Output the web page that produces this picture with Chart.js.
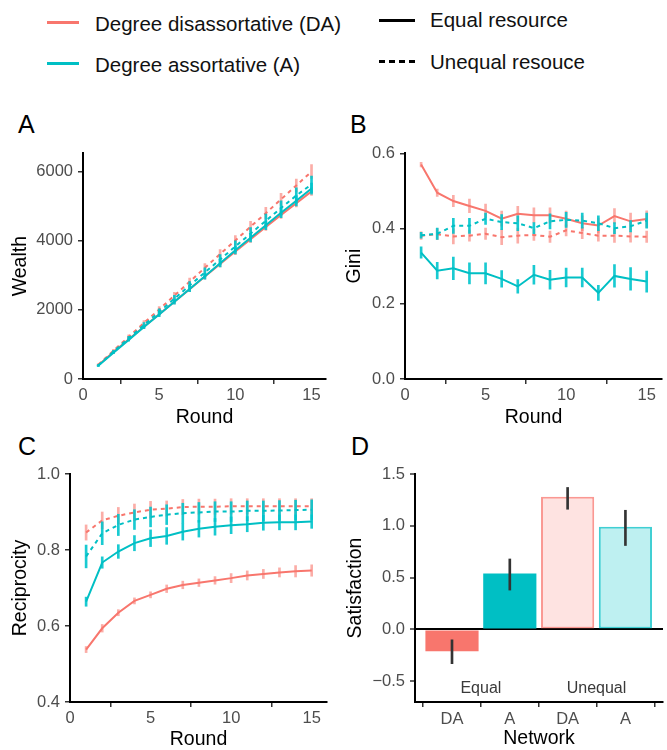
<!DOCTYPE html>
<html><head><meta charset="utf-8">
<script src="https://cdn.jsdelivr.net/npm/chart.js@4/dist/chart.umd.min.js"></script>
<style>
html,body{margin:0;padding:0;background:#fff;}
body{width:667px;height:750px;position:relative;overflow:hidden;font-family:"Liberation Sans",Arial,Helvetica,sans-serif;}
.panel{position:absolute;}
.panel canvas{display:block;}
.letter{position:absolute;font-size:25px;line-height:1;color:#000;}
.leg{position:absolute;font-size:20.5px;line-height:1;color:#111;white-space:nowrap;}
.sw{position:absolute;height:3px;}
</style></head><body>

<div class="sw" style="left:47px;top:21px;width:32px;background:#F8766D"></div>
<div class="leg" style="left:95px;top:14px">Degree disassortative (DA)</div>
<div class="sw" style="left:47px;top:62px;width:32px;background:#00BFC4"></div>
<div class="leg" style="left:95px;top:55px">Degree assortative (A)</div>
<div class="sw" style="left:379px;top:19px;width:36px;background:#000"></div>
<div class="leg" style="left:430px;top:10px">Equal resource</div>
<div class="sw" style="left:379px;top:60px;width:36px;background:repeating-linear-gradient(90deg,#000 0 6px,transparent 6px 10px)"></div>
<div class="leg" style="left:430px;top:52px">Unequal resouce</div>

<div class="letter" style="left:18px;top:112px">A</div>
<div class="letter" style="left:350px;top:112px">B</div>
<div class="letter" style="left:18px;top:434px">C</div>
<div class="letter" style="left:351px;top:434px">D</div>

<div class="panel" style="left:0;top:140px;width:333px;height:300px"><canvas id="cA" width="333" height="300"></canvas></div>
<div class="panel" style="left:333px;top:140px;width:334px;height:300px"><canvas id="cB" width="334" height="300"></canvas></div>
<div class="panel" style="left:0;top:460px;width:333px;height:290px"><canvas id="cC" width="333" height="290"></canvas></div>
<div class="panel" style="left:333px;top:460px;width:334px;height:290px"><canvas id="cD" width="334" height="290"></canvas></div>

<script>
// ---------------- DATA ----------------
const rounds = [1,2,3,4,5,6,7,8,9,10,11,12,13,14,15];
const roundTicks = [0,5,10,15];

// Panel A: Wealth
const wealthTicks = [0,2000,4000,6000];
const wealthDAEqual   = [400,780,1150,1510,1870,2230,2590,2960,3320,3680,4040,4390,4740,5080,5420];
const wealthAEqual    = [380,760,1130,1500,1860,2230,2600,2970,3340,3720,4080,4440,4800,5150,5500];
const wealthDAUnequal = [410,820,1220,1620,2010,2410,2810,3210,3610,4000,4400,4790,5190,5590,5990];
const wealthAUnequal  = [390,790,1180,1560,1940,2320,2700,3080,3450,3830,4200,4570,4940,5300,5620];
const wealthErrDAEqual   = [20,30,40,50,55,60,70,75,80,90,95,100,105,110,115];
const wealthErrAEqual    = [20,30,40,50,60,70,80,90,100,110,120,130,140,150,160];
const wealthErrDAUnequal = [25,40,55,70,80,95,105,120,130,145,155,165,175,185,200];
const wealthErrAUnequal  = [25,40,55,70,85,100,115,130,145,160,175,190,205,220,240];

// Panel B: Gini
const giniTicks = [0,0.2,0.4,0.6];
const giniDAEqual   = [0.570,0.495,0.473,0.460,0.447,0.426,0.439,0.435,0.435,0.426,0.414,0.408,0.433,0.419,0.425];
const giniAEqual    = [0.336,0.288,0.294,0.281,0.281,0.266,0.246,0.277,0.264,0.270,0.270,0.229,0.274,0.266,0.259];
const giniDAUnequal = [0.381,0.385,0.379,0.381,0.386,0.377,0.381,0.383,0.378,0.395,0.388,0.381,0.381,0.379,0.378];
const giniAUnequal  = [0.382,0.386,0.407,0.407,0.426,0.417,0.414,0.401,0.419,0.423,0.421,0.414,0.401,0.406,0.421];
const giniErrDAEqual   = [0.006,0.010,0.015,0.018,0.018,0.020,0.020,0.020,0.020,0.020,0.020,0.020,0.020,0.022,0.022];
const giniErrAEqual    = [0.015,0.022,0.030,0.028,0.028,0.022,0.018,0.025,0.025,0.025,0.025,0.020,0.030,0.030,0.028];
const giniErrDAUnequal = [0.010,0.015,0.020,0.015,0.015,0.020,0.020,0.015,0.015,0.015,0.015,0.015,0.018,0.015,0.015];
const giniErrAUnequal  = [0.008,0.015,0.020,0.020,0.015,0.020,0.020,0.015,0.020,0.020,0.020,0.020,0.015,0.015,0.020];

// Panel C: Reciprocity
const recipTicks = [0.4,0.6,0.8,1.0];
const recipDAEqual   = [0.538,0.594,0.635,0.666,0.682,0.698,0.708,0.714,0.720,0.726,0.733,0.737,0.741,0.744,0.746];
const recipAEqual    = [0.664,0.767,0.796,0.818,0.831,0.837,0.848,0.856,0.861,0.865,0.868,0.872,0.873,0.873,0.875];
const recipDAUnequal = [0.846,0.878,0.890,0.899,0.906,0.909,0.913,0.914,0.914,0.915,0.915,0.915,0.915,0.915,0.915];
const recipAUnequal  = [0.783,0.844,0.866,0.880,0.887,0.893,0.897,0.899,0.901,0.901,0.903,0.903,0.904,0.905,0.906];
const recipErrDAEqual   = [0.008,0.010,0.008,0.008,0.008,0.010,0.010,0.010,0.010,0.012,0.012,0.012,0.012,0.015,0.015];
const recipErrAEqual    = [0.012,0.015,0.018,0.020,0.022,0.022,0.022,0.022,0.022,0.022,0.020,0.020,0.020,0.020,0.018];
const recipErrDAUnequal = [0.020,0.022,0.022,0.022,0.022,0.020,0.020,0.020,0.020,0.020,0.020,0.020,0.020,0.020,0.020];
const recipErrAUnequal  = [0.030,0.030,0.028,0.026,0.026,0.026,0.026,0.026,0.026,0.026,0.026,0.026,0.026,0.026,0.026];

// Panel D: Satisfaction
const satTicks       = [-0.5,0,0.5,1.0,1.5];
const networkLabels  = ['DA','A','DA','A'];
const resourceLabels = ['Equal','Unequal'];
const satisfaction   = [-0.21, 0.54, 1.28, 0.99];
const satLow         = [-0.33, 0.38, 1.16, 0.81];
const satHigh        = [-0.10, 0.68, 1.37, 1.15];

// ---------------- STYLE ----------------
const FONT = '"Liberation Sans", Arial, Helvetica, sans-serif';
const RED = '#F8766D', CYAN = '#00BFC4';
const RED_ERR = 'rgba(248,118,109,0.6)', CYAN_ERR = 'rgba(0,196,204,0.9)';
const TICK = '#4D4D4D';

function fixedTicks(values){ return s => { s.ticks = values.map(v => ({value:v})); }; }

function lineDs(data, color, dashed, order){
  return {type:'line', data: rounds.map((r,i)=>({x:r,y:data[i]})), borderColor:color, borderWidth:2,
    borderDash: dashed?[4,4]:[], pointRadius:0, fill:false, tension:0, order:order};
}
function errDs(data, err, color, order){
  return {type:'bar', data: rounds.map((r,i)=>({x:r,y:[data[i]-err[i], data[i]+err[i]]})),
    backgroundColor:color, borderWidth:0, barThickness:2, grouped:false, order:order};
}
function axisCommon(){
  return {
    grid:{display:true, drawOnChartArea:false, drawTicks:true, tickLength:5, tickColor:'#333', tickWidth:1.5, lineWidth:1.5},
    border:{display:true, color:'#000', width:2}
  };
}
function lineOptions(o){
  return {
    responsive:false, animation:false, devicePixelRatio:1,
    layout:{padding:{left:0, top:o.pt, right:o.pr, bottom:0}},
    plugins:{legend:{display:false}, tooltip:{enabled:false}},
    scales:{
      x:Object.assign(axisCommon(), {type:'linear', min:0, max:15.95, offset:false,
        afterFit(s){ s.height = o.xh; },
        afterBuildTicks: fixedTicks(roundTicks),
        ticks:{color:TICK, font:{family:FONT,size:16.5,lineHeight:1}, padding:3, maxRotation:0, autoSkip:false},
        title:{display:true, text:'Round', color:'#000', font:{family:FONT,size:19.5,lineHeight:1}, padding:{top:0,bottom:o.xtp}}
      }),
      y:Object.assign(axisCommon(), {type:'linear', min:o.ymin, max:o.ymax,
        afterFit(s){ s.width = o.yw; },
        afterBuildTicks: fixedTicks(o.ticks),
        ticks:{color:TICK, font:{family:FONT,size:16.5,lineHeight:1}, padding:5, callback:o.fmt},
        title:{display:true, text:o.ytitle, color:'#000', font:{family:FONT,size:19.5,lineHeight:1}, padding:{top:o.ytp,bottom:0}}
      })
    }
  };
}
function buildLine(id, sets, o){
  const ds = [
    errDs(sets.daU, sets.eDaU, RED_ERR, 8), lineDs(sets.daU, RED, true, 7),
    errDs(sets.daE, sets.eDaE, RED_ERR, 6), lineDs(sets.daE, RED, false, 5),
    errDs(sets.aU, sets.eAU, CYAN_ERR, 4), lineDs(sets.aU, CYAN, true, 3),
    errDs(sets.aE, sets.eAE, CYAN_ERR, 2), lineDs(sets.aE, CYAN, false, 1)
  ];
  new Chart(document.getElementById(id), {type:'line', data:{datasets:ds}, options:lineOptions(o)});
}

const fmt1 = v => (Math.abs(v)<1e-9?0:v).toFixed(1);

buildLine('cA', {daE:wealthDAEqual, aE:wealthAEqual, daU:wealthDAUnequal, aU:wealthAUnequal,
  eDaE:wealthErrDAEqual, eAE:wealthErrAEqual, eDaU:wealthErrDAUnequal, eAU:wealthErrAUnequal},
  {pt:13, pr:7, xh:61, yw:83, xtp:12.25, ytp:10.75, ymin:0, ymax:6520, ticks:wealthTicks, fmt:v=>String(v), ytitle:'Wealth'});

buildLine('cB', {daE:giniDAEqual, aE:giniAEqual, daU:giniDAUnequal, aU:giniAUnequal,
  eDaE:giniErrDAEqual, eAE:giniErrAEqual, eDaU:giniErrDAUnequal, eAU:giniErrAUnequal},
  {pt:13, pr:5, xh:61, yw:72, xtp:12.25, ytp:11.95, ymin:0, ymax:0.6, ticks:giniTicks, fmt:fmt1, ytitle:'Gini'});

buildLine('cC', {daE:recipDAEqual, aE:recipAEqual, daU:recipDAUnequal, aU:recipAUnequal,
  eDaE:recipErrDAEqual, eAE:recipErrAEqual, eDaU:recipErrDAUnequal, eAU:recipErrAUnequal},
  {pt:14, pr:6, xh:48, yw:70, xtp:0.25, ytp:10.75, ymin:0.4, ymax:1.0, ticks:recipTicks, fmt:fmt1, ytitle:'Reciprocity'});

// Panel D
const groupLabelPlugin = {
  id:'groupLabels',
  afterDatasetsDraw(chart){
    const {ctx, scales:{x,y}} = chart;
    ctx.save();
    ctx.font = '16px ' + FONT;
    ctx.fillStyle = '#3A3A3A';
    ctx.textAlign = 'center';
    ctx.textBaseline = 'alphabetic';
    resourceLabels.forEach((t,i)=>{
      ctx.fillText(t, x.getPixelForValue(1.5 + 2*i), y.getPixelForValue(-0.613));
    });
    ctx.restore();
  }
};
const dFmt = v => { if (Math.abs(v)<1e-9) return '0.0'; return v<0 ? '\u2212'+Math.abs(v).toFixed(1) : v.toFixed(1); };
new Chart(document.getElementById('cD'), {
  type:'bar',
  data:{datasets:[
    {type:'bar', data: satLow.map((l,i)=>({x:i+1, y:[l, satHigh[i]]})), backgroundColor:'#333333', borderWidth:0,
      barThickness:2, grouped:false, order:0},
    {type:'bar', data: satisfaction.map((v,i)=>({x:i+1, y:v})),
      backgroundColor:[RED, CYAN, '#FEE3E1', '#BEF0F1'],
      borderColor:[RED, CYAN, 'rgba(248,118,109,0.75)', 'rgba(0,191,196,0.75)'],
      borderWidth:[0,0,2,2], borderSkipped:false, barPercentage:0.92, categoryPercentage:1, grouped:false, order:1}
  ]},
  options:{
    responsive:false, animation:false, devicePixelRatio:1,
    layout:{padding:{left:0, top:14, right:4, bottom:0}},
    plugins:{legend:{display:false}, tooltip:{enabled:false}},
    scales:{
      x:Object.assign(axisCommon(), {type:'linear', min:0.36, max:4.65, offset:false,
        afterFit(s){ s.height = 48; },
        afterBuildTicks: fixedTicks([1,2,3,4]),
        ticks:{color:TICK, font:{family:FONT,size:16.5,lineHeight:1}, padding:4, maxRotation:0, autoSkip:false,
          callback:v => networkLabels[Math.round(v)-1] || ''},
        title:{display:true, text:'Network', color:'#000', font:{family:FONT,size:19.5,lineHeight:1}, padding:{top:0,bottom:1.25}}
      }),
      y:Object.assign(axisCommon(), {type:'linear', min:-0.7, max:1.5,
        afterFit(s){ s.width = 82; },
        afterBuildTicks: fixedTicks(satTicks),
        grid:{display:true, drawOnChartArea:true, drawTicks:true, tickLength:5, tickColor:'#333', tickWidth:1.5, lineWidth:2,
          color: c => (c.tick && Math.abs(c.tick.value)<1e-9) ? '#000' : 'rgba(0,0,0,0)'},
        ticks:{color:TICK, font:{family:FONT,size:16.5,lineHeight:1}, padding:5, callback:dFmt},
        title:{display:true, text:'Satisfaction', color:'#000', font:{family:FONT,size:19.5,lineHeight:1}, padding:{top:12.75,bottom:0}}
      })
    }
  },
  plugins:[groupLabelPlugin]
});
</script>
</body></html>
